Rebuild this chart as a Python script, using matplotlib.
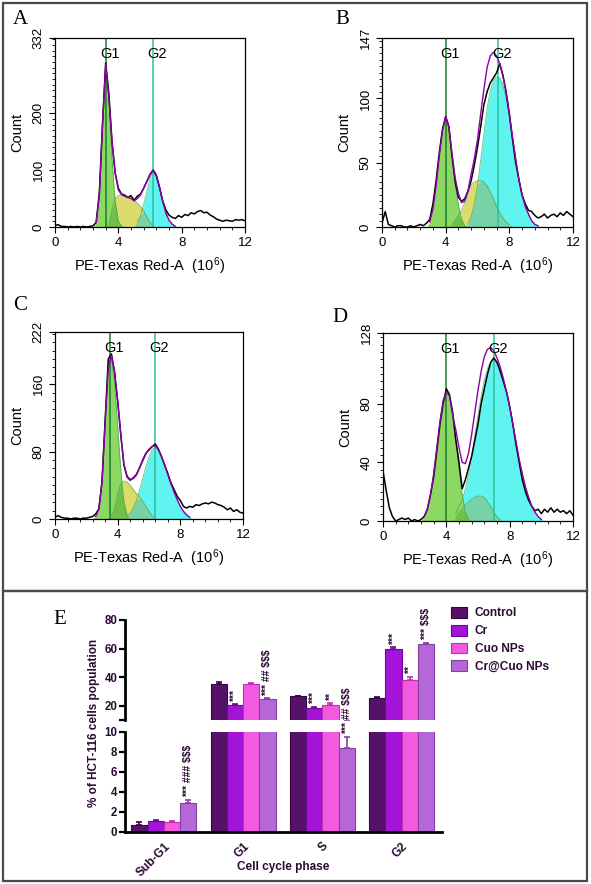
import numpy as np
import matplotlib.pyplot as plt
import matplotlib.transforms as mtransforms
from matplotlib.patches import Rectangle
from matplotlib.ticker import MultipleLocator, AutoMinorLocator

plt.rcParams['font.family'] = ['Liberation Sans', 'DejaVu Sans']
plt.rcParams['mathtext.fontset'] = 'custom'
plt.rcParams['mathtext.rm'] = 'Liberation Sans'
plt.rcParams['mathtext.default'] = 'regular'

# ---- flow cytometry histograms: counts on a 0.2 step grid (x in 10^6) ----
x_grid = np.round(np.arange(0, 12.001, 0.2), 1)

hist_a = [3, 4, 1, 1, 0, 1, 0, 1, 0, 1, 0, 1, 2, 8, 60,
          180, 288, 235, 150, 95, 68, 58, 56, 52, 55, 47, 54, 58, 68, 80,
          92, 100, 90, 70, 46, 30, 21, 17, 15, 20, 17, 22, 20, 25, 23,
          27, 29, 25, 26, 21, 18, 14, 12, 10, 12, 11, 10, 13, 12, 13, 11]
hist_b = [3, 12, 2, 1, 0, 1, 1, 0, 0, 1, 0, 1, 2, 1, 3,
          6, 18, 36, 58, 76, 86, 78, 55, 35, 23, 20, 22, 28, 36, 48,
          62, 78, 95, 105, 112, 116, 120, 127, 118, 105, 88, 68, 50, 37, 25,
          18, 13, 12, 9, 7, 8, 10, 7, 9, 10, 8, 11, 9, 12, 10, 8]
hist_c = [2, 4, 2, 1, 1, 0, 1, 1, 0, 1, 1, 2, 3, 6, 12,
          44, 117, 190, 196, 175, 140, 100, 64, 50, 46, 49, 53, 61, 70, 78,
          82, 86, 89, 83, 74, 64, 54, 43, 35, 27, 22, 15, 13, 15, 14,
          17, 16, 18, 19, 18, 20, 19, 17, 16, 14, 11, 13, 9, 11, 8, 7]
hist_d = [34, 21, 9, 3, 0, 1, 2, 1, 2, 0, 1, 0, 1, 3, 8,
          18, 30, 48, 66, 80, 90, 86, 74, 55, 40, 22, 28, 36, 44, 55,
          66, 80, 90, 100, 108, 111, 108, 102, 95, 88, 78, 66, 52, 40, 28,
          20, 14, 10, 7, 8, 5, 8, 6, 9, 6, 8, 6, 7, 5, 7, 4]

# fitted components: (start x, values every 0.2)
g1_a = (2.6, [8, 55, 180, 285, 225, 120, 45, 10, 2])
s_a = (3.4, [5, 30, 50, 55, 55, 54, 52, 50, 46, 42, 36, 28, 18, 8, 2])
g2_a = (5.2, [8, 20, 40, 62, 85, 98, 92, 70, 45, 25, 12, 5, 1])

g1_b = (3.0, [4, 14, 32, 55, 75, 86, 78, 55, 33, 17, 6, 1])
s_b = (4.4, [2, 5, 9, 13, 19, 25, 33, 35, 36, 36, 35, 32, 27, 22, 16, 11, 7, 4, 2])
g2_b = (5.4, [3, 8, 18, 32, 52, 72, 92, 106, 114, 117, 116, 110, 100, 86, 70,
              53, 37, 25, 16, 10, 5, 2, 1])

g1_c = (2.6, [3, 12, 44, 115, 178, 190, 162, 110, 58, 20, 4, 0])
s_c = (3.6, [4, 12, 30, 42, 45, 44, 40, 35, 30, 26, 21, 15, 9, 4, 1])
g2_c = (4.6, [3, 7, 13, 22, 35, 48, 62, 74, 82, 86, 82, 74, 64, 53, 42, 32, 23,
              15, 9, 5, 2])

g1_d = (2.6, [3, 8, 18, 32, 50, 68, 82, 88, 85, 72, 55, 35, 18, 6, 1])
s_d = (4.6, [2, 5, 8, 11, 13, 15, 16, 17, 17, 16, 13, 10, 6, 3, 1])
g2_d = (4.6, [5, 10, 14, 22, 32, 44, 58, 72, 85, 96, 104, 108, 110, 108, 104, 97,
              88, 78, 66, 54, 42, 32, 23, 16, 10, 6, 3, 1])

gate_lines = {'A': (3.2, 6.2), 'B': (4.0, 7.3), 'C': (3.5, 6.4), 'D': (4.0, 7.0)}
y_max = {'A': 332, 'B': 147, 'C': 222, 'D': 128}
y_ticks = {'A': [0, 100, 200, 332], 'B': [0, 50, 100, 147],
           'C': [0, 80, 160, 222], 'D': [0, 40, 80, 128]}
y_minor = {'A': 10, 'B': 5, 'C': 10, 'D': 5}

# ---- cell cycle bar chart ----
phases = ['Sub-G1', 'G1', 'S', 'G2']
treatments = ['Control', 'Cr', 'Cuo NPs', 'Cr@Cuo NPs']
pct_control = [0.7, 35.3, 26.5, 25.5]
pct_cr = [1.1, 20.3, 18.4, 59.8]
pct_cuo = [1.05, 35.2, 20.4, 38.2]
pct_crcuo = [2.95, 24.8, 8.4, 63.2]
err_control = [0.3, 1.0, 0.6, 0.3]
err_cr = [0.1, 0.6, 0.6, 1.0]
err_cuo = [0.1, 0.7, 1.2, 2.0]
err_crcuo = [0.25, 0.4, 1.1, 0.9]
sig_labels = [(0, 3, '*** ### $$$'), (1, 1, '***'), (1, 3, '*** ## $$$'),
              (2, 1, '***'), (2, 2, '**'), (2, 3, '*** ## $$$'),
              (3, 1, '***'), (3, 2, '**'), (3, 3, '*** $$$')]

W, H = 591, 884
fig = plt.figure(figsize=(W / 100, H / 100), dpi=100)


def px_rect(left, top, right, bottom):
    return [left / W, 1 - bottom / H, (right - left) / W, (bottom - top) / H]


def place(comp):
    start, vals = comp
    out = np.zeros(len(x_grid))
    i = int(round(start / 0.2))
    out[i:i + len(vals)] = vals
    return out


def draw_hist(key, rect, letter_xy, hist, g1, s, g2):
    ax = fig.add_axes(px_rect(*rect))
    G1, S, G2 = place(g1), place(s), place(g2)
    ax.fill_between(x_grid, G2, color='#5ff4f0', lw=0)
    ax.fill_between(x_grid, S, color='#dcdc6e', lw=0)
    ax.fill_between(x_grid, np.minimum(S, G2), color='#78d2a8', lw=0)
    ax.fill_between(x_grid, G1, color='#8cd862', lw=0)
    ax.fill_between(x_grid, np.minimum(G1, S), color='#72bf48', lw=0)
    for comp in (G1, S, G2):
        ax.plot(x_grid, np.where(comp > 0, comp, np.nan), color='#3a9a4a', lw=0.6, alpha=0.7)
    g1x, g2x = gate_lines[key]
    ax.axvline(g1x, color='#1d7d2e', lw=1.1)
    ax.axvline(g2x, color='#2cc09c', lw=1.1)
    total = G1 + S + G2
    ax.plot(x_grid, hist, color='black', lw=1.1)
    ax.plot(x_grid, np.where(total > 0.5, total, np.nan), color='#8e00a8', lw=1.0)
    trans = mtransforms.blended_transform_factory(ax.transData, ax.transAxes)
    ax.text(g1x + 0.25, 0.915, 'G1', transform=trans, ha='center', va='center', fontsize=10.5)
    ax.text(g2x + 0.25, 0.915, 'G2', transform=trans, ha='center', va='center', fontsize=10.5)
    ax.set_xlim(0, 12)
    ax.set_ylim(0, y_max[key])
    ax.set_xticks([0, 4, 8, 12])
    ax.xaxis.set_minor_locator(AutoMinorLocator(5))
    ax.set_yticks(y_ticks[key])
    ax.yaxis.set_minor_locator(MultipleLocator(y_minor[key]))
    ax.tick_params(which='major', direction='out', length=4, width=0.8, labelsize=9.5)
    ax.tick_params(which='minor', direction='out', length=2, width=0.6)
    for lab in ax.get_yticklabels():
        lab.set_rotation(90)
        lab.set_va('center')
    ax.set_ylabel('Count', fontsize=10.5, labelpad=6)
    ax.set_xlabel('PE-Texas Red-A  (10$^{6}$)', fontsize=10.5, labelpad=4)
    for sp in ax.spines.values():
        sp.set_linewidth(0.9)
    fig.text(letter_xy[0] / W, 1 - letter_xy[1] / H, key, fontsize=15,
             family='Liberation Serif', ha='center', va='center')


draw_hist('A', (55, 38, 245, 227), (20, 20), hist_a, g1_a, s_a, g2_a)
draw_hist('B', (382, 38, 573, 227), (342, 20), hist_b, g1_b, s_b, g2_b)
draw_hist('C', (55, 332, 243, 519), (20, 305), hist_c, g1_c, s_c, g2_c)
draw_hist('D', (383, 333, 573, 521), (340, 318), hist_d, g1_d, s_d, g2_d)

# ---- panel E ----
ink = '#2c0a34'
face_cols = ['#561268', '#a314d8', '#f25ae0', '#b566d8']
edge_cols = ['#35063f', '#6c0a94', '#c22eb2', '#86409f']
series = [pct_control, pct_cr, pct_cuo, pct_crcuo]
errors = [err_control, err_cr, err_cuo, err_crcuo]

ax_hi = fig.add_axes(px_rect(125, 620, 442, 720))
ax_lo = fig.add_axes(px_rect(125, 732, 442, 832))
bw = 0.205
centers = np.arange(len(phases))
for ax in (ax_lo, ax_hi):
    for j in range(4):
        xs = centers + (j - 1.5) * bw
        ax.bar(xs, series[j], bw, color=face_cols[j], edgecolor=edge_cols[j], lw=0.8,
               label=treatments[j],
               yerr=[np.zeros(4), errors[j]],
               error_kw=dict(ecolor=edge_cols[j], elinewidth=1.2, capsize=2.5, capthick=1.2))
    ax.set_xlim(-0.49, 3.51)
    ax.spines['top'].set_visible(False)
    ax.spines['right'].set_visible(False)
    ax.spines['left'].set_linewidth(2)
    ax.tick_params(axis='y', direction='out', length=4, width=1.6, colors='black',
                   labelcolor=ink, labelsize=8.3, pad=1.5)

ax_hi.set_ylim(10, 80)
ax_hi.set_yticks([10, 20, 40, 60, 80])
ax_hi.set_yticklabels(['', '20', '40', '60', '80'])
ax_hi.spines['bottom'].set_visible(False)
ax_hi.set_xticks([])

ax_lo.set_ylim(0, 10)
ax_lo.set_yticks([0, 2, 4, 6, 8, 10])
ax_lo.spines['bottom'].set_linewidth(2)
ax_lo.set_xticks(centers)
ax_lo.set_xticklabels(phases, rotation=45, ha='right', rotation_mode='anchor')
ax_lo.tick_params(axis='x', length=0, pad=6, labelcolor=ink, labelsize=8.6)

for ax in (ax_lo, ax_hi):
    for lab in ax.get_yticklabels() + ax.get_xticklabels():
        lab.set_fontweight('bold')

for gi, sj, txt in sig_labels:
    top = series[sj][gi] + errors[sj][gi]
    ax = ax_hi if top > 10 else ax_lo
    ax.annotate(txt, (centers[gi] + (sj - 1.5) * bw, top), xytext=(0, 2),
                textcoords='offset points', rotation=90, ha='center', va='bottom',
                fontsize=7.5, fontweight='bold', color=ink, annotation_clip=False)

fig.text(94 / W, 1 - 723 / H, '% of HCT-116 cells population', rotation=90,
         ha='center', va='center', fontsize=8.5, fontweight='bold', color=ink)
fig.text(283 / W, 1 - 867 / H, 'Cell cycle phase', ha='center', va='center',
         fontsize=8.5, fontweight='bold', color=ink)
fig.text(60 / W, 1 - 620 / H, 'E', fontsize=15, family='Liberation Serif',
         ha='center', va='center')

handles, labels = ax_hi.get_legend_handles_labels()
leg = fig.legend(handles, labels, loc='upper left', bbox_to_anchor=(451 / W, 1 - 607 / H),
                 frameon=False, prop={'weight': 'bold', 'size': 8.6},
                 handlelength=1.3, handleheight=1.0, handletextpad=0.7,
                 labelspacing=0.45, borderpad=0, borderaxespad=0)
for t in leg.get_texts():
    t.set_color(ink)

# panel frames
for top, bottom in ((3, 591), (591, 881)):
    fig.add_artist(Rectangle((3 / W, 1 - bottom / H), 584 / W, (bottom - top) / H,
                             transform=fig.transFigure, fill=False,
                             edgecolor='#4a4a4a', lw=1.6))

fig.savefig('out.png', dpi=100)
